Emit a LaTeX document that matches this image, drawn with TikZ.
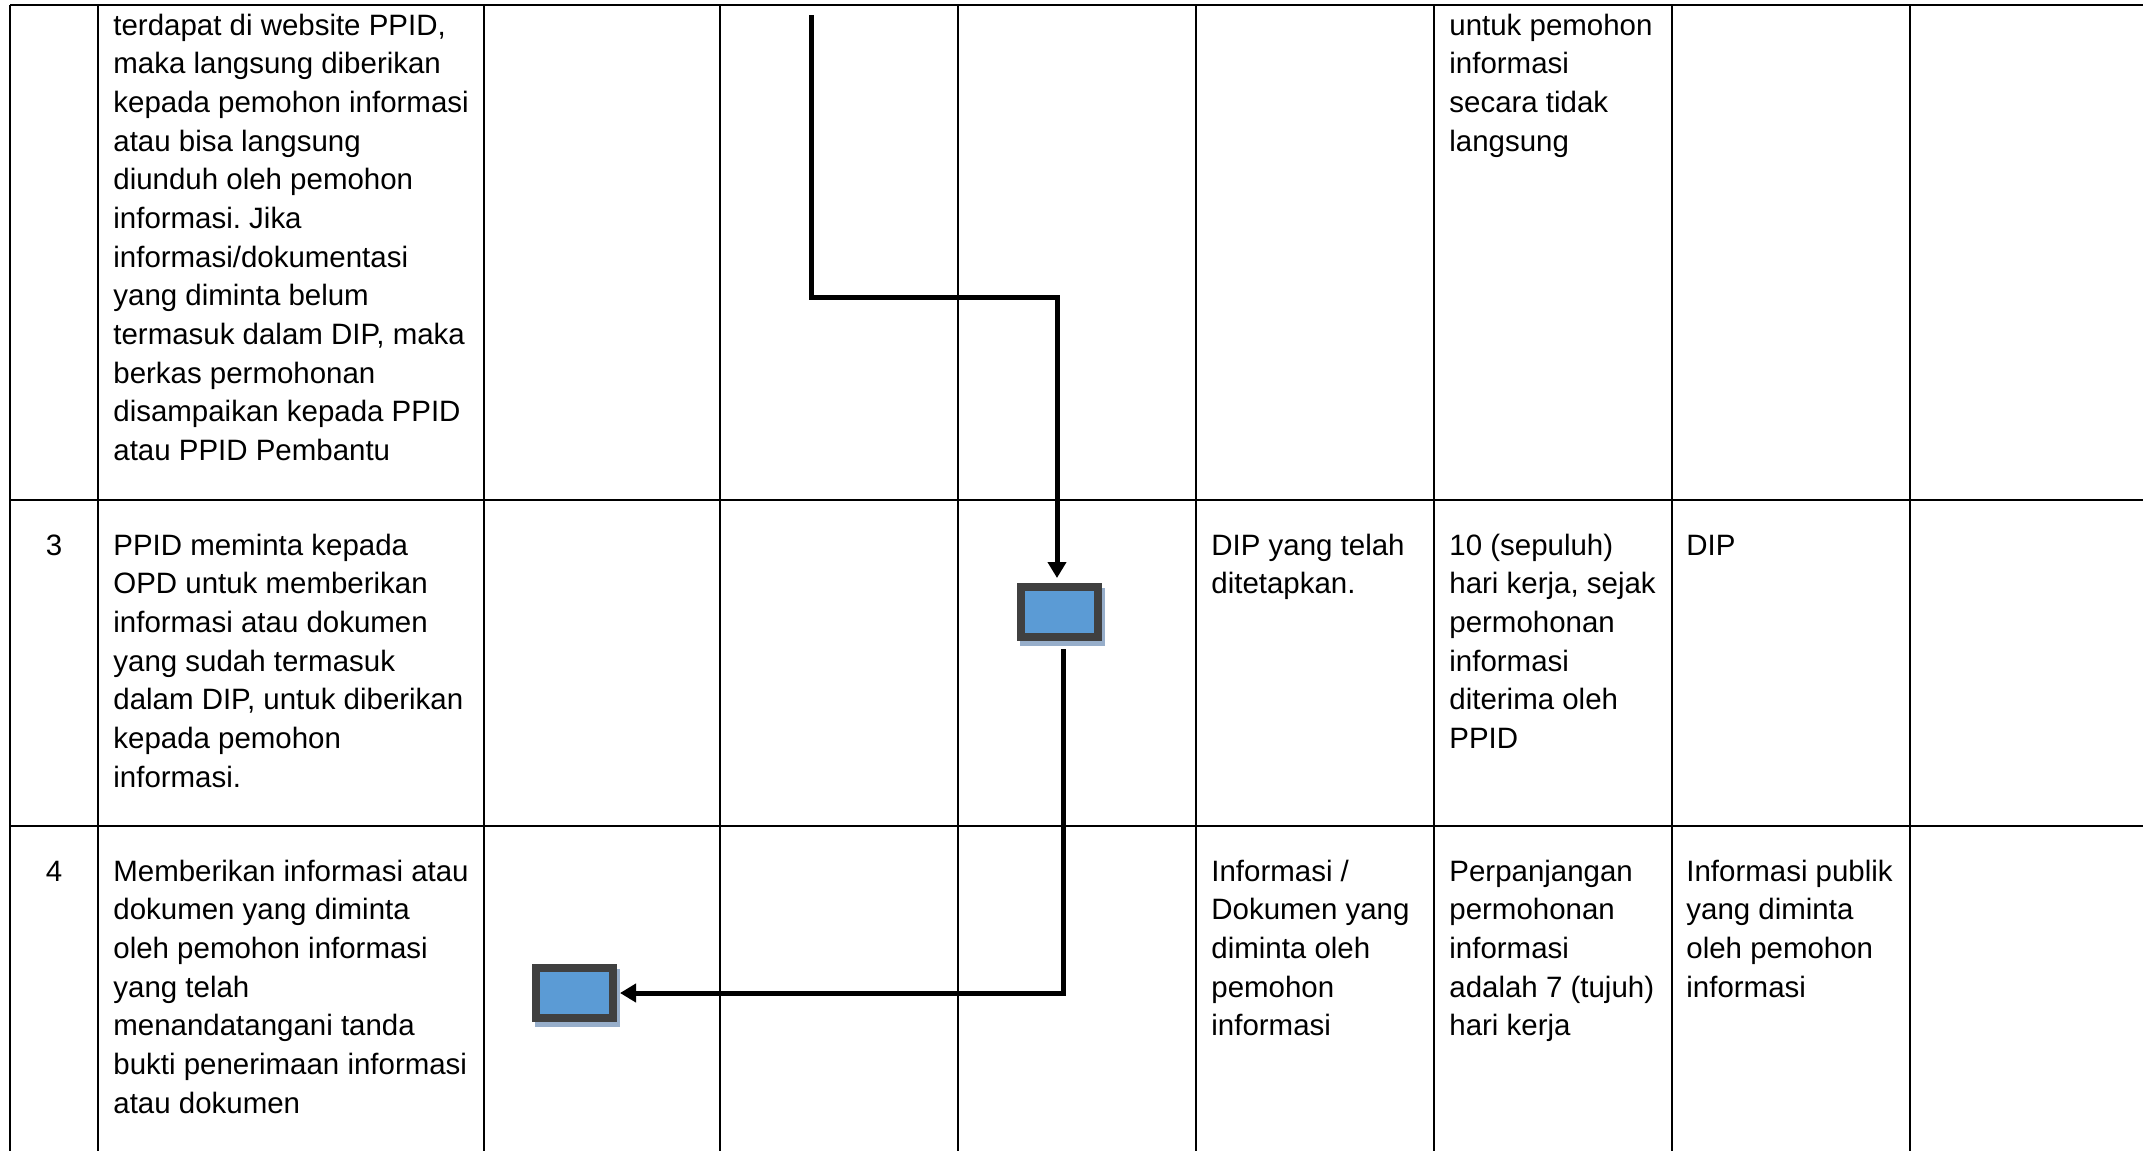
\documentclass[tikz,border=0pt]{standalone}
\usepackage{fontspec}
\setmainfont{Liberation Sans}
\usepackage{xcolor}
\usetikzlibrary{arrows.meta, calc, positioning}
\definecolor{BoxEdge}{HTML}{404040}
\definecolor{BoxFill}{HTML}{5B9BD5}
\definecolor{BoxShade}{HTML}{97AECA}
\frenchspacing
\newcommand{\cellfont}{\fontsize{14.73}{19.33}\selectfont}
\tikzset{
	gridline/.style={line width=1.1pt, black},
	cell/.style={anchor=north west, yshift=10.8pt, inner sep=0pt, align=left, font=\cellfont, execute at begin node=\strut},
	num/.style={anchor=base, inner sep=0pt, font=\cellfont},
	flowbox/.style={draw=BoxEdge, fill=BoxFill, line width=4pt, minimum width=38.5pt, minimum height=25pt, inner sep=0pt,
		preaction={draw=BoxShade, fill=BoxShade, line width=4pt, transform canvas={xshift=1.5pt, yshift=-2.5pt}}},
	flow/.style={line width=2.5pt, -{Triangle[length=8pt, width=9pt]}}
}

\begin{document}
\begin{tikzpicture}[x=0.5pt, y=-0.5pt]

	\useasboundingbox (0,0) rectangle (2143,1151);
	\fill[white] (0,0) rectangle (2143,1151);

	% table
	\foreach \cx in {10,98,484,720,958,1196,1434,1672,1910}
		\draw[gridline] (\cx,5) -- (\cx,1151);
	\foreach \ry in {5,500,826}
		\draw[gridline] (10,\ry) -- (2143,\ry);

	% row 2 (continued)
	\node[cell] (R2a) at (113,35) {terdapat di website PPID,\\ maka langsung diberikan\\ kepada pemohon informasi\\ atau bisa langsung\\ diunduh oleh pemohon\\ informasi. Jika\\ informasi/dokumentasi\\ yang diminta belum\\ termasuk dalam DIP, maka\\ berkas permohonan\\ disampaikan kepada PPID\\ atau PPID Pembantu};
	\node[cell] (R2e) at (1449,35) {untuk pemohon\\ informasi\\ secara tidak\\ langsung};

	% row 3
	\node[num] (R3n) at (54,555) {3};
	\node[cell] (R3a) at (113,555) {PPID meminta kepada\\ OPD untuk memberikan\\ informasi atau dokumen\\ yang sudah termasuk\\ dalam DIP, untuk diberikan\\ kepada pemohon\\ informasi.};
	\node[cell] (R3d) at (1211,555) {DIP yang telah\\ ditetapkan.};
	\node[cell] (R3e) at (1449,555) {10 (sepuluh)\\ hari kerja, sejak\\ permohonan\\ informasi\\ diterima oleh\\ PPID};
	\node[num, anchor=base west] (R3f) at (1686,555) {DIP};

	% row 4
	\node[num] (R4n) at (54,881) {4};
	\node[cell] (R4a) at (113,881) {Memberikan informasi atau\\ dokumen yang diminta\\ oleh pemohon informasi\\ yang telah\\ menandatangani tanda\\ bukti penerimaan informasi\\ atau dokumen};
	\node[cell] (R4d) at (1211,881) {Informasi /\\ Dokumen yang\\ diminta oleh\\ pemohon\\ informasi};
	\node[cell] (R4e) at (1449,881) {Perpanjangan\\ permohonan\\ informasi\\ adalah 7 (tujuh)\\ hari kerja};
	\node[cell] (R4f) at (1686,881) {Informasi publik\\ yang diminta\\ oleh pemohon\\ informasi};

	% flow
	\node[flowbox] (B3) at (1059.5,612) {};
	\node[flowbox] (B4) at (574.5,993) {};
	\coordinate (S) at (811,15);

	\draw[flow] (S) -- ++(0,282) -| ([xshift=-1.25pt, yshift=2.5pt]B3.north);
	\draw[flow] ([xshift=2pt, yshift=-4pt]B3.south) |- ([xshift=1.5pt]B4.east);

\end{tikzpicture}
\end{document}
